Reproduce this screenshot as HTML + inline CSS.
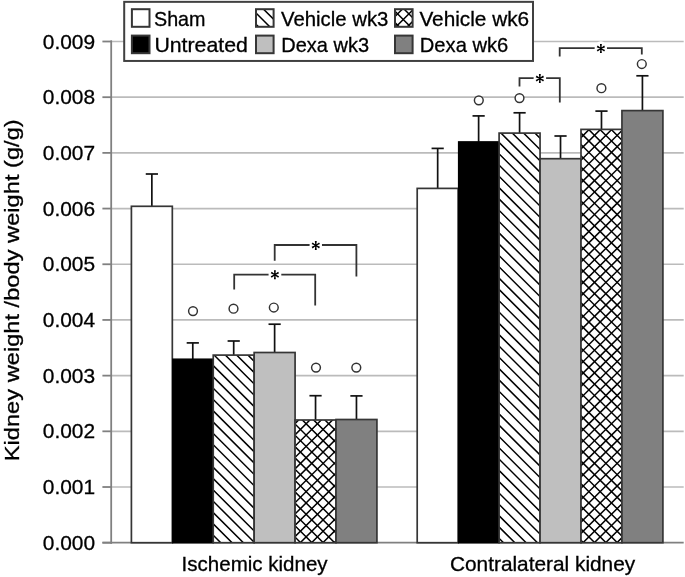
<!DOCTYPE html>
<html><head><meta charset="utf-8"><title>chart</title>
<style>
html,body{margin:0;padding:0;background:#fff;}
svg{display:block;will-change:transform;}
text{font-family:"Liberation Sans",sans-serif;fill:#000;stroke:#000;stroke-width:0.3px;}
</style></head><body>
<svg width="685" height="577" viewBox="0 0 685 577">
<defs>
<path id="dA" d="M0 -848.25 L700 -148.25 M0 -836.94 L700 -136.94 M0 -825.63 L700 -125.63 M0 -814.32 L700 -114.32 M0 -803.01 L700 -103.01 M0 -791.70 L700 -91.70 M0 -780.39 L700 -80.39 M0 -769.08 L700 -69.08 M0 -757.77 L700 -57.77 M0 -746.46 L700 -46.46 M0 -735.15 L700 -35.15 M0 -723.84 L700 -23.84 M0 -712.53 L700 -12.53 M0 -701.22 L700 -1.22 M0 -689.91 L700 10.09 M0 -678.60 L700 21.40 M0 -667.29 L700 32.71 M0 -655.98 L700 44.02 M0 -644.67 L700 55.33 M0 -633.36 L700 66.64 M0 -622.05 L700 77.95 M0 -610.74 L700 89.26 M0 -599.43 L700 100.57 M0 -588.12 L700 111.88 M0 -576.81 L700 123.19 M0 -565.50 L700 134.50 M0 -554.19 L700 145.81 M0 -542.88 L700 157.12 M0 -531.57 L700 168.43 M0 -520.26 L700 179.74 M0 -508.95 L700 191.05 M0 -497.64 L700 202.36 M0 -486.33 L700 213.67 M0 -475.02 L700 224.98 M0 -463.71 L700 236.29 M0 -452.40 L700 247.60 M0 -441.09 L700 258.91 M0 -429.78 L700 270.22 M0 -418.47 L700 281.53 M0 -407.16 L700 292.84 M0 -395.85 L700 304.15 M0 -384.54 L700 315.46 M0 -373.23 L700 326.77 M0 -361.92 L700 338.08 M0 -350.61 L700 349.39 M0 -339.30 L700 360.70 M0 -327.99 L700 372.01 M0 -316.68 L700 383.32 M0 -305.37 L700 394.63 M0 -294.06 L700 405.94 M0 -282.75 L700 417.25 M0 -271.44 L700 428.56 M0 -260.13 L700 439.87 M0 -248.82 L700 451.18 M0 -237.51 L700 462.49 M0 -226.20 L700 473.80 M0 -214.89 L700 485.11 M0 -203.58 L700 496.42 M0 -192.27 L700 507.73 M0 -180.96 L700 519.04 M0 -169.65 L700 530.35 M0 -158.34 L700 541.66 M0 -147.03 L700 552.97 M0 -135.72 L700 564.28 M0 -124.41 L700 575.59 M0 -113.10 L700 586.90 M0 -101.79 L700 598.21 M0 -90.48 L700 609.52 M0 -79.17 L700 620.83 M0 -67.86 L700 632.14 M0 -56.55 L700 643.45 M0 -45.24 L700 654.76 M0 -33.93 L700 666.07 M0 -22.62 L700 677.38 M0 -11.31 L700 688.69 M0 0.00 L700 700.00 M0 11.31 L700 711.31 M0 22.62 L700 722.62 M0 33.93 L700 733.93 M0 45.24 L700 745.24 M0 56.55 L700 756.55 M0 67.86 L700 767.86 M0 79.17 L700 779.17 M0 90.48 L700 790.48 M0 101.79 L700 801.79 M0 113.10 L700 813.10 M0 124.41 L700 824.41 M0 135.72 L700 835.72 M0 147.03 L700 847.03 M0 158.34 L700 858.34 M0 169.65 L700 869.65 M0 180.96 L700 880.96 M0 192.27 L700 892.27 M0 203.58 L700 903.58 M0 214.89 L700 914.89 M0 226.20 L700 926.20 M0 237.51 L700 937.51 M0 248.82 L700 948.82 M0 260.13 L700 960.13 M0 271.44 L700 971.44 M0 282.75 L700 982.75 M0 294.06 L700 994.06 M0 305.37 L700 1005.37 M0 316.68 L700 1016.68 M0 327.99 L700 1027.99 M0 339.30 L700 1039.30 M0 350.61 L700 1050.61 M0 361.92 L700 1061.92 M0 373.23 L700 1073.23 M0 384.54 L700 1084.54 M0 395.85 L700 1095.85 M0 407.16 L700 1107.16 M0 418.47 L700 1118.47 M0 429.78 L700 1129.78 M0 441.09 L700 1141.09 M0 452.40 L700 1152.40 M0 463.71 L700 1163.71 M0 475.02 L700 1175.02 M0 486.33 L700 1186.33 M0 497.64 L700 1197.64 M0 508.95 L700 1208.95 M0 520.26 L700 1220.26 M0 531.57 L700 1231.57 M0 542.88 L700 1242.88 M0 554.19 L700 1254.19 M0 565.50 L700 1265.50 M0 576.81 L700 1276.81 M0 588.12 L700 1288.12 M0 599.43 L700 1299.43 M0 610.74 L700 1310.74 M0 622.05 L700 1322.05 M0 633.36 L700 1333.36 M0 644.67 L700 1344.67 M0 655.98 L700 1355.98 M0 667.29 L700 1367.29 M0 678.60 L700 1378.60 M0 689.91 L700 1389.91" stroke="#000" stroke-width="1.5" fill="none"/>
<path id="dB" d="M0 0.00 L700 -700.00 M0 11.31 L700 -688.69 M0 22.62 L700 -677.38 M0 33.93 L700 -666.07 M0 45.24 L700 -654.76 M0 56.55 L700 -643.45 M0 67.86 L700 -632.14 M0 79.17 L700 -620.83 M0 90.48 L700 -609.52 M0 101.79 L700 -598.21 M0 113.10 L700 -586.90 M0 124.41 L700 -575.59 M0 135.72 L700 -564.28 M0 147.03 L700 -552.97 M0 158.34 L700 -541.66 M0 169.65 L700 -530.35 M0 180.96 L700 -519.04 M0 192.27 L700 -507.73 M0 203.58 L700 -496.42 M0 214.89 L700 -485.11 M0 226.20 L700 -473.80 M0 237.51 L700 -462.49 M0 248.82 L700 -451.18 M0 260.13 L700 -439.87 M0 271.44 L700 -428.56 M0 282.75 L700 -417.25 M0 294.06 L700 -405.94 M0 305.37 L700 -394.63 M0 316.68 L700 -383.32 M0 327.99 L700 -372.01 M0 339.30 L700 -360.70 M0 350.61 L700 -349.39 M0 361.92 L700 -338.08 M0 373.23 L700 -326.77 M0 384.54 L700 -315.46 M0 395.85 L700 -304.15 M0 407.16 L700 -292.84 M0 418.47 L700 -281.53 M0 429.78 L700 -270.22 M0 441.09 L700 -258.91 M0 452.40 L700 -247.60 M0 463.71 L700 -236.29 M0 475.02 L700 -224.98 M0 486.33 L700 -213.67 M0 497.64 L700 -202.36 M0 508.95 L700 -191.05 M0 520.26 L700 -179.74 M0 531.57 L700 -168.43 M0 542.88 L700 -157.12 M0 554.19 L700 -145.81 M0 565.50 L700 -134.50 M0 576.81 L700 -123.19 M0 588.12 L700 -111.88 M0 599.43 L700 -100.57 M0 610.74 L700 -89.26 M0 622.05 L700 -77.95 M0 633.36 L700 -66.64 M0 644.67 L700 -55.33 M0 655.98 L700 -44.02 M0 667.29 L700 -32.71 M0 678.60 L700 -21.40 M0 689.91 L700 -10.09 M0 701.22 L700 1.22 M0 712.53 L700 12.53 M0 723.84 L700 23.84 M0 735.15 L700 35.15 M0 746.46 L700 46.46 M0 757.77 L700 57.77 M0 769.08 L700 69.08 M0 780.39 L700 80.39 M0 791.70 L700 91.70 M0 803.01 L700 103.01 M0 814.32 L700 114.32 M0 825.63 L700 125.63 M0 836.94 L700 136.94 M0 848.25 L700 148.25 M0 859.56 L700 159.56 M0 870.87 L700 170.87 M0 882.18 L700 182.18 M0 893.49 L700 193.49 M0 904.80 L700 204.80 M0 916.11 L700 216.11 M0 927.42 L700 227.42 M0 938.73 L700 238.73 M0 950.04 L700 250.04 M0 961.35 L700 261.35 M0 972.66 L700 272.66 M0 983.97 L700 283.97 M0 995.28 L700 295.28 M0 1006.59 L700 306.59 M0 1017.90 L700 317.90 M0 1029.21 L700 329.21 M0 1040.52 L700 340.52 M0 1051.83 L700 351.83 M0 1063.14 L700 363.14 M0 1074.45 L700 374.45 M0 1085.76 L700 385.76 M0 1097.07 L700 397.07 M0 1108.38 L700 408.38 M0 1119.69 L700 419.69 M0 1131.00 L700 431.00 M0 1142.31 L700 442.31 M0 1153.62 L700 453.62 M0 1164.93 L700 464.93 M0 1176.24 L700 476.24 M0 1187.55 L700 487.55 M0 1198.86 L700 498.86 M0 1210.17 L700 510.17 M0 1221.48 L700 521.48 M0 1232.79 L700 532.79 M0 1244.10 L700 544.10 M0 1255.41 L700 555.41 M0 1266.72 L700 566.72 M0 1278.03 L700 578.03 M0 1289.34 L700 589.34 M0 1300.65 L700 600.65 M0 1311.96 L700 611.96 M0 1323.27 L700 623.27 M0 1334.58 L700 634.58 M0 1345.89 L700 645.89 M0 1357.20 L700 657.20 M0 1368.51 L700 668.51 M0 1379.82 L700 679.82 M0 1391.13 L700 691.13" stroke="#000" stroke-width="1.5" fill="none"/>
</defs>
<rect width="685" height="577" fill="#fff"/>

<line x1="111" y1="41.50" x2="683.7" y2="41.50" stroke="#bbbbbb" stroke-width="1.7"/>
<line x1="111" y1="97.19" x2="683.7" y2="97.19" stroke="#bbbbbb" stroke-width="1.7"/>
<line x1="111" y1="152.88" x2="683.7" y2="152.88" stroke="#bbbbbb" stroke-width="1.7"/>
<line x1="111" y1="208.57" x2="683.7" y2="208.57" stroke="#bbbbbb" stroke-width="1.7"/>
<line x1="111" y1="264.26" x2="683.7" y2="264.26" stroke="#bbbbbb" stroke-width="1.7"/>
<line x1="111" y1="319.94" x2="683.7" y2="319.94" stroke="#bbbbbb" stroke-width="1.7"/>
<line x1="111" y1="375.63" x2="683.7" y2="375.63" stroke="#bbbbbb" stroke-width="1.7"/>
<line x1="111" y1="431.32" x2="683.7" y2="431.32" stroke="#bbbbbb" stroke-width="1.7"/>
<line x1="111" y1="487.01" x2="683.7" y2="487.01" stroke="#bbbbbb" stroke-width="1.7"/>
<line x1="111.2" y1="40.50" x2="111.2" y2="543.70" stroke="#808080" stroke-width="1.8"/>
<line x1="102.4" y1="41.50" x2="112" y2="41.50" stroke="#808080" stroke-width="1.8"/>
<line x1="102.4" y1="97.19" x2="112" y2="97.19" stroke="#808080" stroke-width="1.8"/>
<line x1="102.4" y1="152.88" x2="112" y2="152.88" stroke="#808080" stroke-width="1.8"/>
<line x1="102.4" y1="208.57" x2="112" y2="208.57" stroke="#808080" stroke-width="1.8"/>
<line x1="102.4" y1="264.26" x2="112" y2="264.26" stroke="#808080" stroke-width="1.8"/>
<line x1="102.4" y1="319.94" x2="112" y2="319.94" stroke="#808080" stroke-width="1.8"/>
<line x1="102.4" y1="375.63" x2="112" y2="375.63" stroke="#808080" stroke-width="1.8"/>
<line x1="102.4" y1="431.32" x2="112" y2="431.32" stroke="#808080" stroke-width="1.8"/>
<line x1="102.4" y1="487.01" x2="112" y2="487.01" stroke="#808080" stroke-width="1.8"/>
<line x1="102.4" y1="542.70" x2="112" y2="542.70" stroke="#808080" stroke-width="1.8"/>
<line x1="102.4" y1="542.70" x2="683.7" y2="542.70" stroke="#808080" stroke-width="1.8"/>
<text x="95.1" y="48.60" font-size="20.8" text-anchor="end" textLength="52.3" lengthAdjust="spacingAndGlyphs">0.009</text>
<text x="95.1" y="104.29" font-size="20.8" text-anchor="end" textLength="52.3" lengthAdjust="spacingAndGlyphs">0.008</text>
<text x="95.1" y="159.98" font-size="20.8" text-anchor="end" textLength="52.3" lengthAdjust="spacingAndGlyphs">0.007</text>
<text x="95.1" y="215.67" font-size="20.8" text-anchor="end" textLength="52.3" lengthAdjust="spacingAndGlyphs">0.006</text>
<text x="95.1" y="271.36" font-size="20.8" text-anchor="end" textLength="52.3" lengthAdjust="spacingAndGlyphs">0.005</text>
<text x="95.1" y="327.04" font-size="20.8" text-anchor="end" textLength="52.3" lengthAdjust="spacingAndGlyphs">0.004</text>
<text x="95.1" y="382.73" font-size="20.8" text-anchor="end" textLength="52.3" lengthAdjust="spacingAndGlyphs">0.003</text>
<text x="95.1" y="438.42" font-size="20.8" text-anchor="end" textLength="52.3" lengthAdjust="spacingAndGlyphs">0.002</text>
<text x="95.1" y="494.11" font-size="20.8" text-anchor="end" textLength="52.3" lengthAdjust="spacingAndGlyphs">0.001</text>
<text x="95.1" y="549.80" font-size="20.8" text-anchor="end" textLength="52.3" lengthAdjust="spacingAndGlyphs">0.000</text>
<line x1="151.86" y1="174.00" x2="151.86" y2="206.30" stroke="#111" stroke-width="1.7"/>
<line x1="145.76" y1="174.00" x2="157.96" y2="174.00" stroke="#111" stroke-width="1.7"/>
<rect x="131.40" y="206.30" width="40.92" height="336.40" fill="#ffffff" stroke="#363636" stroke-width="1.7"/>
<line x1="192.78" y1="342.90" x2="192.78" y2="359.20" stroke="#111" stroke-width="1.7"/>
<line x1="186.68" y1="342.90" x2="198.88" y2="342.90" stroke="#111" stroke-width="1.7"/>
<rect x="172.82" y="359.20" width="40.42" height="183.50" fill="#000" stroke="#000" stroke-width="1.5"/>
<circle cx="193.00" cy="311.10" r="4.4" fill="#fff" stroke="#333" stroke-width="1.45"/>
<line x1="233.70" y1="341.00" x2="233.70" y2="355.10" stroke="#111" stroke-width="1.7"/>
<line x1="227.60" y1="341.00" x2="239.80" y2="341.00" stroke="#111" stroke-width="1.7"/>
<clipPath id="c1"><rect x="213.24" y="355.10" width="40.92" height="187.60"/></clipPath>
<rect x="213.24" y="355.10" width="40.92" height="187.60" fill="#fff"/>
<g clip-path="url(#c1)"><use href="#dA" transform="translate(0,5.3)"/></g>
<rect x="213.24" y="355.10" width="40.92" height="187.60" fill="none" stroke="#363636" stroke-width="1.7"/>
<circle cx="233.50" cy="308.70" r="4.4" fill="#fff" stroke="#333" stroke-width="1.45"/>
<line x1="274.62" y1="324.20" x2="274.62" y2="352.50" stroke="#111" stroke-width="1.7"/>
<line x1="268.52" y1="324.20" x2="280.72" y2="324.20" stroke="#111" stroke-width="1.7"/>
<rect x="254.16" y="352.50" width="40.92" height="190.20" fill="#bfbfbf" stroke="#363636" stroke-width="1.7"/>
<circle cx="273.80" cy="307.50" r="4.4" fill="#fff" stroke="#333" stroke-width="1.45"/>
<line x1="315.54" y1="395.70" x2="315.54" y2="420.00" stroke="#111" stroke-width="1.7"/>
<line x1="309.44" y1="395.70" x2="321.64" y2="395.70" stroke="#111" stroke-width="1.7"/>
<clipPath id="c2"><rect x="295.08" y="420.00" width="40.92" height="122.70"/></clipPath>
<rect x="295.08" y="420.00" width="40.92" height="122.70" fill="#fff"/>
<g clip-path="url(#c2)"><use href="#dA" transform="translate(0,4.55)"/><use href="#dB" transform="translate(0,6.05)"/></g>
<rect x="295.08" y="420.00" width="40.92" height="122.70" fill="none" stroke="#363636" stroke-width="1.7"/>
<circle cx="316.00" cy="367.60" r="4.4" fill="#fff" stroke="#333" stroke-width="1.45"/>
<line x1="356.46" y1="395.90" x2="356.46" y2="419.50" stroke="#111" stroke-width="1.7"/>
<line x1="350.36" y1="395.90" x2="362.56" y2="395.90" stroke="#111" stroke-width="1.7"/>
<rect x="336.00" y="419.50" width="40.92" height="123.20" fill="#808080" stroke="#363636" stroke-width="1.7"/>
<circle cx="356.30" cy="367.60" r="4.4" fill="#fff" stroke="#333" stroke-width="1.45"/>
<line x1="437.67" y1="148.40" x2="437.67" y2="188.40" stroke="#111" stroke-width="1.7"/>
<line x1="431.57" y1="148.40" x2="443.77" y2="148.40" stroke="#111" stroke-width="1.7"/>
<rect x="417.20" y="188.40" width="40.95" height="354.30" fill="#ffffff" stroke="#363636" stroke-width="1.7"/>
<line x1="478.62" y1="115.90" x2="478.62" y2="141.90" stroke="#111" stroke-width="1.7"/>
<line x1="472.52" y1="115.90" x2="484.73" y2="115.90" stroke="#111" stroke-width="1.7"/>
<rect x="458.65" y="141.90" width="40.45" height="400.80" fill="#000" stroke="#000" stroke-width="1.5"/>
<circle cx="478.80" cy="100.30" r="4.4" fill="#fff" stroke="#333" stroke-width="1.45"/>
<line x1="519.58" y1="112.80" x2="519.58" y2="133.10" stroke="#111" stroke-width="1.7"/>
<line x1="513.48" y1="112.80" x2="525.68" y2="112.80" stroke="#111" stroke-width="1.7"/>
<clipPath id="c3"><rect x="499.10" y="133.10" width="40.95" height="409.60"/></clipPath>
<rect x="499.10" y="133.10" width="40.95" height="409.60" fill="#fff"/>
<g clip-path="url(#c3)"><use href="#dA" transform="translate(0,5.3)"/></g>
<rect x="499.10" y="133.10" width="40.95" height="409.60" fill="none" stroke="#363636" stroke-width="1.7"/>
<circle cx="519.50" cy="98.10" r="4.4" fill="#fff" stroke="#333" stroke-width="1.45"/>
<line x1="560.52" y1="136.00" x2="560.52" y2="158.70" stroke="#111" stroke-width="1.7"/>
<line x1="554.42" y1="136.00" x2="566.62" y2="136.00" stroke="#111" stroke-width="1.7"/>
<rect x="540.05" y="158.70" width="40.95" height="384.00" fill="#bfbfbf" stroke="#363636" stroke-width="1.7"/>
<line x1="601.48" y1="111.10" x2="601.48" y2="129.40" stroke="#111" stroke-width="1.7"/>
<line x1="595.38" y1="111.10" x2="607.58" y2="111.10" stroke="#111" stroke-width="1.7"/>
<clipPath id="c4"><rect x="581.00" y="129.40" width="40.95" height="413.30"/></clipPath>
<rect x="581.00" y="129.40" width="40.95" height="413.30" fill="#fff"/>
<g clip-path="url(#c4)"><use href="#dA" transform="translate(0,4.55)"/><use href="#dB" transform="translate(0,6.05)"/></g>
<rect x="581.00" y="129.40" width="40.95" height="413.30" fill="none" stroke="#363636" stroke-width="1.7"/>
<circle cx="601.40" cy="88.20" r="4.4" fill="#fff" stroke="#333" stroke-width="1.45"/>
<line x1="642.42" y1="75.80" x2="642.42" y2="110.60" stroke="#111" stroke-width="1.7"/>
<line x1="636.32" y1="75.80" x2="648.52" y2="75.80" stroke="#111" stroke-width="1.7"/>
<rect x="621.95" y="110.60" width="40.95" height="432.10" fill="#808080" stroke="#363636" stroke-width="1.7"/>
<circle cx="641.80" cy="64.00" r="4.4" fill="#fff" stroke="#333" stroke-width="1.45"/>
<path d="M274.70 260.70 V245.00 H309.70 M321.90 245.00 H356.40 V276.40" fill="none" stroke="#333" stroke-width="1.8" stroke-linejoin="miter"/>
<ellipse cx="315.80" cy="245.40" rx="6.0" ry="7.4" fill="#fff"/>
<path d="M316.30 245.40 L316.75 240.90 L314.85 240.90 L315.30 245.40Z M315.30 245.40 L314.85 249.90 L316.75 249.90 L316.30 245.40Z M315.54 245.83 L319.01 248.42 L319.99 246.78 L316.06 244.97Z M316.06 245.83 L319.99 244.02 L319.01 242.38 L315.54 244.97Z M315.54 244.97 L311.61 246.78 L312.59 248.42 L316.06 245.83Z M316.06 244.97 L312.59 242.38 L311.61 244.02 L315.54 245.83Z" fill="#000"/>
<circle cx="315.80" cy="245.40" r="1.0" fill="#000"/>
<path d="M234.20 289.60 V274.70 H268.60 M281.30 274.70 H315.20 V305.50" fill="none" stroke="#333" stroke-width="1.8" stroke-linejoin="miter"/>
<ellipse cx="274.90" cy="274.75" rx="6.0" ry="7.4" fill="#fff"/>
<path d="M275.40 274.75 L275.85 270.25 L273.95 270.25 L274.40 274.75Z M274.40 274.75 L273.95 279.25 L275.85 279.25 L275.40 274.75Z M274.64 275.18 L278.11 277.77 L279.09 276.13 L275.16 274.32Z M275.16 275.18 L279.09 273.37 L278.11 271.73 L274.64 274.32Z M274.64 274.32 L270.71 276.13 L271.69 277.77 L275.16 275.18Z M275.16 274.32 L271.69 271.73 L270.71 273.37 L274.64 275.18Z" fill="#000"/>
<circle cx="274.90" cy="274.75" r="1.0" fill="#000"/>
<path d="M519.50 86.40 V78.20 H533.70 M546.10 78.20 H559.80 V102.40" fill="none" stroke="#333" stroke-width="1.8" stroke-linejoin="miter"/>
<ellipse cx="539.85" cy="78.55" rx="6.0" ry="7.4" fill="#fff"/>
<path d="M540.35 78.55 L540.80 74.05 L538.90 74.05 L539.35 78.55Z M539.35 78.55 L538.90 83.05 L540.80 83.05 L540.35 78.55Z M539.59 78.98 L543.06 81.57 L544.04 79.93 L540.11 78.12Z M540.11 78.98 L544.04 77.17 L543.06 75.53 L539.59 78.12Z M539.59 78.12 L535.66 79.93 L536.64 81.57 L540.11 78.98Z M540.11 78.12 L536.64 75.53 L535.66 77.17 L539.59 78.98Z" fill="#000"/>
<circle cx="539.85" cy="78.55" r="1.0" fill="#000"/>
<path d="M559.70 56.40 V48.10 H594.70 M606.80 48.10 H641.80 V54.40" fill="none" stroke="#333" stroke-width="1.8" stroke-linejoin="miter"/>
<ellipse cx="600.90" cy="48.60" rx="6.0" ry="7.4" fill="#fff"/>
<path d="M601.40 48.60 L601.85 44.10 L599.95 44.10 L600.40 48.60Z M600.40 48.60 L599.95 53.10 L601.85 53.10 L601.40 48.60Z M600.64 49.03 L604.11 51.62 L605.09 49.98 L601.16 48.17Z M601.16 49.03 L605.09 47.22 L604.11 45.58 L600.64 48.17Z M600.64 48.17 L596.71 49.98 L597.69 51.62 L601.16 49.03Z M601.16 48.17 L597.69 45.58 L596.71 47.22 L600.64 49.03Z" fill="#000"/>
<circle cx="600.90" cy="48.60" r="1.0" fill="#000"/>
<rect x="124.2" y="1.85" width="408.8" height="59.1" fill="#fff" stroke="#404040" stroke-width="2"/>
<rect x="131.9" y="9.2" width="17.6" height="17.6" fill="#fff" stroke="#363636" stroke-width="2"/>
<rect x="131.9" y="35.6" width="17.6" height="17.6" fill="#000" stroke="#363636" stroke-width="2"/>
<clipPath id="c5"><rect x="256.00" y="9.20" width="17.60" height="17.60"/></clipPath>
<rect x="256.00" y="9.20" width="17.60" height="17.60" fill="#fff"/>
<g clip-path="url(#c5)"><use href="#dA" transform="translate(0,5.8)"/></g>
<rect x="256.00" y="9.20" width="17.60" height="17.60" fill="none" stroke="#363636" stroke-width="2"/>
<rect x="256.0" y="35.6" width="17.6" height="17.6" fill="#bfbfbf" stroke="#363636" stroke-width="2"/>
<clipPath id="c6"><rect x="395.00" y="9.20" width="17.60" height="17.60"/></clipPath>
<rect x="395.00" y="9.20" width="17.60" height="17.60" fill="#fff"/>
<g clip-path="url(#c6)"><use href="#dA" transform="translate(0,0.84)"/><use href="#dB" transform="translate(0,4.33)"/></g>
<rect x="395.00" y="9.20" width="17.60" height="17.60" fill="none" stroke="#363636" stroke-width="2"/>
<rect x="395.0" y="35.6" width="17.6" height="17.6" fill="#808080" stroke="#363636" stroke-width="2"/>
<text x="154.0" y="25.5" font-size="20.4" textLength="51.5" lengthAdjust="spacingAndGlyphs">Sham</text>
<text x="154.4" y="52.0" font-size="20.4" textLength="93.5" lengthAdjust="spacingAndGlyphs">Untreated</text>
<text x="281.0" y="25.5" font-size="20.4" textLength="107.4" lengthAdjust="spacingAndGlyphs">Vehicle wk3</text>
<text x="281.3" y="52.0" font-size="20.4" textLength="87.8" lengthAdjust="spacingAndGlyphs">Dexa wk3</text>
<text x="419.4" y="25.5" font-size="20.4" textLength="109.8" lengthAdjust="spacingAndGlyphs">Vehicle wk6</text>
<text x="419.8" y="52.0" font-size="20.4" textLength="88.5" lengthAdjust="spacingAndGlyphs">Dexa wk6</text>
<text x="181.6" y="571.4" font-size="20.4" textLength="146" lengthAdjust="spacingAndGlyphs">Ischemic kidney</text>
<text x="450.0" y="571.4" font-size="20.4" textLength="185.2" lengthAdjust="spacingAndGlyphs">Contralateral kidney</text>
<text transform="translate(19.2,461.3) rotate(-90)" font-size="20.6" textLength="342" lengthAdjust="spacingAndGlyphs">Kidney weight /body weight (g/g)</text>
</svg></body></html>
